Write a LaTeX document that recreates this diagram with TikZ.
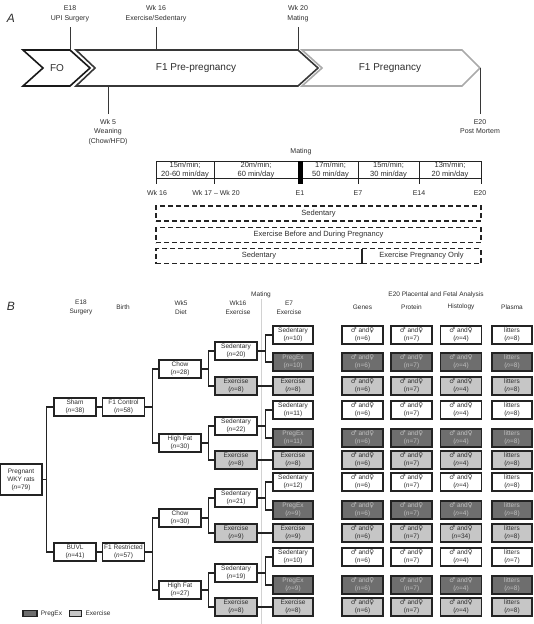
\documentclass[tikz,border=0pt]{standalone}
\usepackage{fontspec}
\setmainfont{Liberation Sans}
\newfontfamily\symfont{DejaVu Sans}
\usetikzlibrary{positioning}

\newcommand{\sexes}{{\symfont ♂} and{\symfont ♀}}
\newcommand{\nval}[1]{(\textit{n}=#1)}

\begin{document}
\begin{tikzpicture}[x=1pt,y=-1pt,
	lbl/.style={font=\fontsize{7}{9.5}\selectfont,align=center,inner sep=1.5pt,text=txt},
	stamp/.style={lbl,inner ysep=5pt},
	hdr/.style={font=\fontsize{6.5}{9}\selectfont,align=center,inner sep=1pt,text=txt},
	cell/.style={font=\fontsize{7.5}{8.7}\selectfont,align=center,inner sep=0pt,text=txt},
	grp/.style={draw=edge,line width=1.3pt,fill=white,minimum width=42pt,minimum height=18pt,inner sep=0pt,align=center,font=\fontsize{6.5}{7.5}\selectfont,text=txt},
	sed/.style={},
	pregex/.style={fill=darkfill,text=white!75!black},
	exer/.style={fill=lightfill},
	link/.style={draw=edge,line width=1.3pt},
	tick/.style={draw=predark,line width=1pt},
	chev/.style={line width=1.6pt,line join=miter},
	dashbox/.style={draw=edge,dash pattern=on 5pt off 3pt,line width=1.2pt,minimum height=15pt,inner sep=0pt,font=\fontsize{7.5}{9}\selectfont,text=txt},
	keybox/.style={draw=edge,line width=1.1pt,minimum height=6pt,inner sep=0pt}
]
	\definecolor{txt}{RGB}{45,45,45}
	\definecolor{edge}{RGB}{35,35,35}
	\definecolor{darkfill}{RGB}{110,110,110}
	\definecolor{lightfill}{RGB}{198,198,198}
	\definecolor{fodark}{RGB}{25,25,25}
	\definecolor{predark}{RGB}{55,55,55}
	\definecolor{preggray}{RGB}{170,170,170}

	\useasboundingbox (0,0) rectangle (534,624);

	% A: time line
	\node[font=\fontsize{12}{12}\selectfont\itshape,text=txt] (tagA) at (11,18) {A};
	\draw[chev,fodark] (23,50) -- (70,50) coordinate (foT) -- (90,68) -- (70,86) -- (23,86) -- (43,68) -- cycle;
	\draw[chev,predark] (76,50) -- (298,50) coordinate (preT) -- (318,68) -- (298,86) coordinate (preB) -- (76,86) -- (95,68) -- cycle;
	\draw[chev,preggray] (302,50) -- (462,50) -- (480,68) coordinate (pregTip) -- (462,86) -- (302,86) -- (322,68) -- cycle;
	\node[font=\fontsize{10}{12}\selectfont,text=txt] (fo) at (57,68) {FO};
	\node[font=\fontsize{10}{12}\selectfont,text=txt] (pre) at (196,68) {F1 Pre-pregnancy};
	\node[font=\fontsize{10}{12}\selectfont,text=txt] (preg) at (390,68) {F1 Pregnancy};

	\node[stamp,anchor=south] (e18) at (70,27) {E18\\UPI Surgery};
	\node[stamp,anchor=south] (wk16) at (156,27) {Wk 16\\Exercise/Sedentary};
	\node[stamp,anchor=south] (wk20) at (298,27) {Wk 20\\Mating};
	\node[stamp,anchor=north] (wk5) at (108,114) {Wk 5\\Weaning\\(Chow/HFD)};
	\node[stamp,anchor=north] (e20) at (480,114) {E20\\Post Mortem};
	\draw[tick] (e18.south) -- (foT);
	\draw[tick] (wk16.south) -- (wk16.south |- preT);
	\draw[tick] (wk20.south) -- (preT);
	\draw[tick] (wk5.north) -- (wk5.north |- preB);
	\draw[tick] (e20.north) -- (pregTip);

	\node[lbl] (mate) at (301,152) {Mating};
	\draw[line width=0.9pt,edge] (156,161) rectangle (481,178);
	\foreach \x in {156,214,358,419,481}
		\draw[line width=0.9pt,edge] (\x,161) -- (\x,184);
	\fill[black] (298,161) rectangle (303,184);
	\node[cell] (c1) at (185,170) {15m/min;\\20-60 min/day};
	\node[cell] (c2) at (256,170) {20m/min;\\60 min/day};
	\node[cell] (c3) at (330.5,170) {17m/min;\\50 min/day};
	\node[cell] (c4) at (388.5,170) {15m/min;\\30 min/day};
	\node[cell] (c5) at (450,170) {13m/min;\\20 min/day};
	\node[lbl] (t1) at (157,193) {Wk 16};
	\node[lbl] (t2) at (216,193) {Wk 17 – Wk 20};
	\node[lbl] (t3) at (300,193) {E1};
	\node[lbl] (t4) at (358,193) {E7};
	\node[lbl] (t5) at (419,193) {E14};
	\node[lbl] (t6) at (480,193) {E20};

	\node[dashbox,minimum width=325pt] (sedAll) at (318.5,213.5) {Sedentary};
	\node[dashbox,minimum width=325pt] (exAll) at (318.5,235) {Exercise Before and During Pregnancy};
	\node[dashbox,minimum width=206pt] (sedPre) at (259,256) {Sedentary};
	\node[dashbox,minimum width=119pt] (exPreg) at (421.5,256) {Exercise Pregnancy Only};

	% B: groups
	\node[font=\fontsize{12}{12}\selectfont\itshape,text=txt] (tagB) at (11,306) {B};
	\node[hdr] (hSurg) at (81,307.5) {E18\\Surgery};
	\node[hdr] (hBirth) at (123,307) {Birth};
	\node[hdr] (hDiet) at (181,307.5) {Wk5\\Diet};
	\node[hdr] (hWk16) at (238,307.5) {Wk16\\Exercise};
	\node[hdr] (hMate) at (261,295) {Mating};
	\node[hdr] (hE7) at (289,308) {E7\\Exercise};
	\node[hdr] (hAna) at (436,295) {E20 Placental and Fetal Analysis};
	\node[hdr] (hGen) at (362.5,307) {Genes};
	\node[hdr] (hProt) at (411.5,307) {Protein};
	\node[hdr] (hHist) at (461,307) {Histology};
	\node[hdr] (hPlas) at (512,307) {Plasma};
	\coordinate (bottom) at (261,624);
	\draw[gray!35,line width=0.8pt] (hMate.south) -- (hMate.south |- bottom);

	\node[grp,minimum height=31pt,font=\fontsize{6.5}{8}\selectfont] (rats) at (21,479.5) {Pregnant\\WKY rats\\\nval{79}};
	\node[grp] (sham) at (75,407) {Sham\\\nval{38}};
	\node[grp] (buvl) at (75,552) {BUVL\\\nval{41}};
	\node[grp] (ctrl) at (123.5,407) {F1 Control\\\nval{58}};
	\node[grp] (restr) at (123.5,552) {F1 Restricted\\\nval{57}};
	\node[grp] (chow1) at (180,369) {Chow\\\nval{28}};
	\node[grp] (hf1) at (180,443) {High Fat\\\nval{30}};
	\node[grp] (chow2) at (180,518) {Chow\\\nval{30}};
	\node[grp] (hf2) at (180,590) {High Fat\\\nval{27}};
	\node[grp] (w1) at (236,351) {Sedentary\\\nval{20}};
	\node[grp,exer] (w2) at (236,386) {Exercise\\\nval{8}};
	\node[grp] (w3) at (236,426) {Sedentary\\\nval{22}};
	\node[grp,exer] (w4) at (236,460) {Exercise\\\nval{8}};
	\node[grp] (w5) at (236,498) {Sedentary\\\nval{21}};
	\node[grp,exer] (w6) at (236,533) {Exercise\\\nval{9}};
	\node[grp] (w7) at (236,573) {Sedentary\\\nval{19}};
	\node[grp,exer] (w8) at (236,607) {Exercise\\\nval{8}};

	\foreach \i/\y/\kind/\lab/\n/\hn/\ln in {
		1/335/sed/Sedentary/10/4/8, 2/362/pregex/PregEx/10/4/8, 3/386/exer/Exercise/8/4/8,
		4/410/sed/Sedentary/11/4/8, 5/438/pregex/PregEx/11/4/8, 6/460/exer/Exercise/8/4/8,
		7/482/sed/Sedentary/12/4/8, 8/510/pregex/PregEx/9/4/8, 9/533/exer/Exercise/9/34/8,
		10/557/sed/Sedentary/10/4/7, 11/585/pregex/PregEx/9/4/8, 12/607/exer/Exercise/8/4/8}
	{
		\node[grp,\kind,minimum width=40pt] (e\i) at (293,\y) {\lab\\\nval{\n}};
		\node[grp,\kind,minimum width=41pt] (gen\i) at (362.5,\y) {\sexes\\\nval{6}};
		\node[grp,\kind,minimum width=41pt] (prot\i) at (411.5,\y) {\sexes\\\nval{7}};
		\node[grp,\kind,minimum width=41pt] (hist\i) at (461,\y) {\sexes\\\nval{\hn}};
		\node[grp,\kind,minimum width=40pt] (plas\i) at (512,\y) {litters\\\nval{\ln}};
	}

	\draw[link] (rats.east) -- ++(4,0) |- (sham.west);
	\draw[link] (rats.east) -- ++(4,0) |- (buvl.west);
	\draw[link] (sham) -- (ctrl);
	\draw[link] (buvl) -- (restr);
	\foreach \a/\b/\c in {ctrl/chow1/hf1, restr/chow2/hf2, chow1/w1/w2, hf1/w3/w4, chow2/w5/w6, hf2/w7/w8}
	{
		\draw[link] (\a.east) -- ++(7,0) |- (\b.west);
		\draw[link] (\a.east) -- ++(7,0) |- (\c.west);
	}
	\foreach \a/\b/\c in {w1/e1/e2, w3/e4/e5, w5/e7/e8, w7/e10/e11}
	{
		\draw[link] (\a.east) -- ++(8,0) |- (\b.west);
		\draw[link] (\a.east) -- ++(8,0) |- (\c.west);
	}
	\foreach \a/\b in {w2/e3, w4/e6, w6/e9, w8/e12}
		\draw[link] (\a) -- (\b);

	\node[keybox,fill=darkfill,minimum width=14pt] (keyP) at (30,613.5) {};
	\node[hdr,right=2pt of keyP] (keyPt) {PregEx};
	\node[keybox,fill=lightfill,minimum width=12pt,right=6pt of keyPt] (keyE) {};
	\node[hdr,right=2pt of keyE] (keyEt) {Exercise};
\end{tikzpicture}
\end{document}
